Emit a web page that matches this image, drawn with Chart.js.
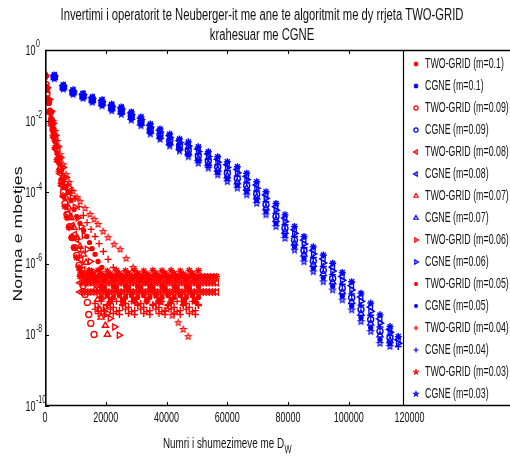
<!DOCTYPE html>
<html>
<head>
<meta charset="utf-8">
<script src="https://cdn.jsdelivr.net/npm/chart.js@4.4.0/dist/chart.umd.min.js"></script>
<style>
html, body { margin: 0; padding: 0; background: #fff; }
#chart { display: block; }
</style>
</head>
<body>
<canvas id="chart" width="510" height="459"></canvas>
<script>
// Axis ticks
const xTicks = [0, 20000, 40000, 60000, 80000, 100000, 120000];
const yTickExps = [0, -2, -4, -6, -8, -10];

// Legend order
const legendLabels = [
    'TWO-GRID (m=0.1)', 'CGNE (m=0.1)', 'TWO-GRID (m=0.09)', 'CGNE (m=0.09)',
    'TWO-GRID (m=0.08)', 'CGNE (m=0.08)', 'TWO-GRID (m=0.07)', 'CGNE (m=0.07)',
    'TWO-GRID (m=0.06)', 'CGNE (m=0.06)', 'TWO-GRID (m=0.05)', 'CGNE (m=0.05)',
    'TWO-GRID (m=0.04)', 'CGNE (m=0.04)', 'TWO-GRID (m=0.03)', 'CGNE (m=0.03)'
];

// CGNE: multiplications at each outer step, residual exponents (log10) per m
const cgneX = [3060, 6020, 9220, 12510, 15570, 18760, 21950, 25110, 28400, 31590, 34650, 37850, 41040, 44260, 47160, 50450, 53740, 56840, 60000, 63290, 66380, 69670, 72730, 76020, 78980, 82110, 85240, 88300, 91590, 94680, 97840, 100940, 104000, 107190, 110250, 113540, 116270];
const cgne01 = [-0.70, -0.98, -1.12, -1.22, -1.32, -1.40, -1.52, -1.60, -1.74, -1.88, -2.08, -2.22, -2.36, -2.50, -2.58, -2.72, -2.86, -3.00, -3.14, -3.28, -3.46, -3.70, -3.98, -4.31, -4.63, -4.96, -5.24, -5.53, -5.76, -5.99, -6.25, -6.51, -6.83, -7.11, -7.44, -7.77, -8.05];
const cgne009 = [-0.76, -1.05, -1.19, -1.30, -1.41, -1.50, -1.63, -1.72, -1.87, -2.02, -2.24, -2.39, -2.55, -2.69, -2.82, -2.98, -3.12, -3.29, -3.46, -3.62, -3.81, -4.05, -4.35, -4.68, -5.01, -5.34, -5.64, -5.93, -6.19, -6.42, -6.69, -6.96, -7.29, -7.57, -7.90, -8.09];
const cgne008 = [-0.72, -1.00, -1.14, -1.24, -1.34, -1.42, -1.55, -1.63, -1.77, -1.92, -2.12, -2.26, -2.41, -2.55, -2.64, -2.78, -2.92, -3.07, -3.22, -3.36, -3.55, -3.79, -4.07, -4.40, -4.72, -5.05, -5.34, -5.63, -5.87, -6.10, -6.36, -6.62, -6.94, -7.22, -7.55, -7.85, -8.14];
const cgne007 = [-0.78, -1.07, -1.21, -1.32, -1.43, -1.52, -1.65, -1.75, -1.90, -2.06, -2.28, -2.43, -2.60, -2.74, -2.88, -3.05, -3.19, -3.36, -3.54, -3.71, -3.89, -4.13, -4.44, -4.77, -5.10, -5.43, -5.74, -6.03, -6.29, -6.52, -6.80, -7.07, -7.40, -7.68, -8.01, -8.17];
const cgne006 = [-0.73, -1.01, -1.16, -1.26, -1.36, -1.45, -1.58, -1.66, -1.81, -1.95, -2.16, -2.30, -2.46, -2.60, -2.70, -2.85, -2.99, -3.15, -3.30, -3.45, -3.64, -3.88, -4.17, -4.50, -4.82, -5.15, -5.45, -5.73, -5.98, -6.21, -6.47, -6.74, -7.06, -7.34, -7.67, -7.93, -8.24];
const cgne005 = [-0.79, -1.08, -1.23, -1.34, -1.45, -1.55, -1.68, -1.78, -1.94, -2.09, -2.32, -2.47, -2.65, -2.79, -2.94, -3.12, -3.26, -3.44, -3.62, -3.80, -3.98, -4.22, -4.54, -4.87, -5.20, -5.53, -5.85, -6.13, -6.40, -6.63, -6.91, -7.19, -7.52, -7.80, -8.13, -8.25];
const cgne004 = [-0.75, -1.03, -1.18, -1.28, -1.38, -1.47, -1.60, -1.69, -1.84, -1.99, -2.20, -2.34, -2.51, -2.65, -2.76, -2.92, -3.06, -3.22, -3.38, -3.54, -3.72, -3.96, -4.26, -4.59, -4.91, -5.24, -5.55, -5.83, -6.08, -6.31, -6.58, -6.85, -7.17, -7.45, -7.78, -8.01, -8.33];
const cgne003 = [-0.81, -1.10, -1.25, -1.36, -1.47, -1.57, -1.71, -1.81, -1.97, -2.13, -2.36, -2.51, -2.70, -2.84, -3.00, -3.18, -3.32, -3.51, -3.70, -3.88, -4.07, -4.31, -4.63, -4.96, -5.29, -5.62, -5.95, -6.23, -6.51, -6.74, -7.02, -7.30, -7.63, -7.91, -8.24, -8.33];

// TWO-GRID: descent phase (multiplications, log10 residual)
const twoGrid01X = [0, 330, 820, 1320, 1980, 2640, 3300, 3950, 4610, 5270, 5930, 6590, 7250, 7910, 8730, 9560, 10380, 11200];
const twoGrid01E = [-0.72, -1.05, -1.39, -1.73, -2.06, -2.40, -2.74, -3.08, -3.41, -3.75, -4.09, -4.40, -4.71, -4.99, -5.27, -5.55, -5.83, -6.11];
const twoGrid009X = [0, 330, 660, 1150, 1650, 2140, 2640, 3300, 3950, 4610, 5110, 5600, 6100, 6590, 7250, 8070, 8900, 9720, 10450, 11200, 11860, 12520, 13180, 13940, 14400, 15060, 16150];
const twoGrid009E = [-0.72, -0.97, -1.22, -1.47, -1.73, -1.98, -2.23, -2.51, -2.79, -3.08, -3.36, -3.69, -4.00, -4.31, -4.62, -4.96, -5.27, -5.55, -5.77, -6.05, -6.33, -6.62, -6.87, -7.09, -7.43, -7.68, -7.99];
const twoGrid008X = [0, 490, 990, 1650, 2310, 2970, 3620, 4280, 4940, 5600, 6260, 6920, 7580, 8240, 8900, 9720, 10450, 11200, 11860, 12520];
const twoGrid008E = [-0.72, -1.11, -1.45, -1.78, -2.12, -2.46, -2.79, -3.13, -3.47, -3.81, -4.12, -4.40, -4.59, -4.68, -4.93, -5.18, -5.32, -5.60, -5.89, -6.17];
const twoGrid007X = [0, 490, 990, 1650, 2310, 2970, 3620, 4280, 4940, 5600, 6260, 6920, 7740, 8570, 9560, 10540, 11530, 12620, 13510, 14500, 15490, 16480, 17300, 17960, 18450, 19870, 20530];
const twoGrid007E = [-0.72, -1.05, -1.39, -1.73, -2.06, -2.40, -2.71, -3.02, -3.30, -3.58, -3.86, -4.14, -4.42, -4.71, -4.99, -5.27, -5.52, -5.74, -5.97, -6.22, -6.47, -6.73, -7.01, -7.29, -7.51, -7.74, -7.99];
const twoGrid006X = [0, 660, 1320, 1980, 2640, 3460, 4280, 5110, 5930, 6920, 7910, 8900, 9890, 10870, 11860, 12850, 13840, 14830, 15910, 16800, 17790, 18780, 19770, 20590, 21420, 22900, 24380];
const twoGrid006E = [-0.72, -1.05, -1.39, -1.73, -2.06, -2.40, -2.71, -3.02, -3.30, -3.58, -3.86, -4.14, -4.42, -4.71, -4.96, -5.21, -5.60, -5.94, -6.22, -6.47, -6.73, -6.98, -7.23, -7.40, -7.54, -7.78, -8.01];
const twoGrid005X = [0, 660, 1320, 1980, 2640, 3300, 3950, 4610, 5270, 5930, 6750, 7680, 8570, 9560, 10450, 11530, 12690, 13740, 14660, 15490, 16480, 17460, 18680];
const twoGrid005E = [-0.72, -1.11, -1.50, -1.90, -2.23, -2.57, -2.91, -3.19, -3.41, -3.64, -3.86, -4.00, -4.23, -4.48, -4.68, -4.87, -5.07, -5.24, -5.41, -5.58, -5.74, -5.94, -6.11];
const twoGrid004X = [0, 660, 1320, 1980, 2640, 3300, 3950, 4610, 5270, 6260, 7580, 8800, 9890, 11200, 12620, 13840, 15160, 16480, 17790, 19210, 20760, 22500, 24050];
const twoGrid004E = [-0.72, -1.05, -1.39, -1.73, -2.06, -2.40, -2.74, -3.08, -3.36, -3.58, -3.78, -3.95, -4.17, -4.40, -4.65, -4.85, -5.04, -5.24, -5.44, -5.66, -5.88, -6.11, -6.28];
const twoGrid003X = [0, 660, 1320, 1980, 2640, 3300, 3950, 4940, 5930, 6920, 7910, 9230, 10540, 11530, 13180, 14830, 16150, 17460, 19110, 20760, 22740, 24710, 26690, 29000, 30980, 32950, 34600, 36580, 38220, 40200, 41850, 43820, 45470, 47120];
const twoGrid003E = [-0.72, -1.11, -1.39, -1.73, -2.01, -2.29, -2.57, -2.94, -3.22, -3.50, -3.72, -3.97, -4.14, -4.26, -4.45, -4.62, -4.76, -4.90, -5.10, -5.27, -5.46, -5.60, -5.86, -6.11, -6.31, -6.53, -6.73, -6.90, -7.09, -7.29, -7.46, -7.66, -7.85, -8.05];

// TWO-GRID: stagnation phase (shared multiplication counts, null = no point)
const plateauX = [11500, 12500, 13500, 14500, 15500, 16500, 17500, 18500, 19500, 20500, 21500, 22500, 23500, 24500, 25500, 26500, 27500, 28500, 29500, 30500, 31500, 32500, 33500, 34500, 35500, 36500, 37500, 38500, 39500, 40500, 41500, 42500, 43500, 44500, 45500, 46500, 47500, 48500, 49500, 50500, 51500, 52500, 53500, 54500, 55500, 56500];
const twoGrid01PlateauA = [-6.36, -6.36, -6.36, -6.36, -6.36, -6.36, -6.36, -6.36, -6.36, -6.36, -6.36, -6.36, -6.36, -6.36, -6.36, -6.36, -6.36, -6.36, -6.36, -6.36, -6.36, -6.36, -6.36, -6.36, -6.36, -6.36, -6.36, -6.36, -6.36, -6.36, -6.36, -6.36, -6.36, -6.36, -6.36, -6.36, -6.36, -6.36, -6.36, -6.36, -6.36, -6.36, -6.36, -6.36, -6.36, -6.36];
const twoGrid01PlateauB = [-6.19, -6.28, -6.45, -6.20, -6.27, -6.46, -6.19, -6.28, -6.45, -6.21, -6.29, -6.44, -6.19, -6.28, -6.45, -6.20, -6.27, -6.46, -6.19, -6.28, -6.45, -6.21, -6.29, -6.44, -6.19, -6.28, -6.45, -6.20, -6.27, -6.46, -6.19, -6.28, -6.45, -6.21, -6.29, -6.44, -6.19, -6.28, -6.45, -6.20, null, null, null, null, null, null];
const twoGrid008PlateauA = [-6.54, -6.54, -6.54, -6.54, -6.54, -6.54, -6.54, -6.54, -6.54, -6.54, -6.54, -6.54, -6.54, -6.54, -6.54, -6.54, -6.54, -6.54, -6.54, -6.54, -6.54, -6.54, -6.54, -6.54, -6.54, -6.54, -6.54, -6.54, -6.54, -6.54, -6.54, -6.54, -6.54, -6.54, -6.54, -6.54, -6.54, -6.54, -6.54, -6.54, -6.54, -6.54, -6.54, -6.54, -6.54, -6.54];
const twoGrid008PlateauB = [-6.80, -6.80, -6.80, -6.80, -6.80, -6.80, -6.80, -6.80, -6.80, -6.80, -6.80, -6.80, -6.80, -6.80, -6.80, -6.80, -6.80, -6.80, -6.80, -6.80, -6.80, -6.80, -6.80, -6.80, -6.80, -6.80, -6.80, -6.80, -6.80, -6.80, -6.80, -6.80, -6.80, -6.80, -6.80, -6.80, -6.80, -6.80, -6.80, -6.80, -6.80, -6.80, -6.80, -6.80, -6.80, -6.80];
const twoGrid005PlateauA = [null, null, null, null, null, null, null, -6.64, -6.73, -6.90, -7.01, -6.64, -6.73, -6.90, -7.01, -6.64, -6.73, -6.90, -7.01, -6.64, -6.73, -6.90, -7.01, -6.64, -6.73, -6.90, -7.01, -6.64, -6.73, -6.90, -7.01, -6.64, -6.73, -6.90, -7.01, -6.64, -6.73, -6.90, -7.01, -6.64, null, null, null, null, null, null];
const twoGrid005PlateauB = [null, null, null, null, null, null, null, -6.95, -6.68, -6.86, -7.07, -6.95, -6.68, -6.86, -7.07, -6.95, -6.68, -6.86, -7.07, -6.95, -6.68, -6.86, -7.07, -6.95, -6.68, -6.86, -7.07, -6.95, -6.68, -6.86, -7.07, -6.95, -6.68, -6.86, -7.07, -6.95, -6.68, -6.86, -7.07, -6.95, null, null, null, null, null, null];
const twoGrid004PlateauA = [null, null, null, null, null, -7.12, -7.23, -7.35, -7.43, -7.18, -7.12, -7.23, -7.35, -7.43, -7.18, -7.12, -7.23, -7.35, -7.43, -7.18, -7.12, -7.23, -7.35, -7.43, -7.18, -7.12, -7.23, -7.35, -7.43, -7.18, -7.12, -7.23, -7.35, -7.43, -7.18, -7.12, -7.23, -7.35, -7.43, -7.18, null, null, null, null, null, null];
const twoGrid004PlateauB = [null, null, null, null, null, -7.28, -7.40, -7.06, -7.32, -7.15, -7.28, -7.40, -7.06, -7.32, -7.15, -7.28, -7.40, -7.06, -7.32, -7.15, -7.28, -7.40, -7.06, -7.32, -7.15, -7.28, -7.40, -7.06, -7.32, -7.15, -7.28, -7.40, -7.06, -7.32, -7.15, -7.28, -7.40, -7.06, -7.32, -7.15, null, null, null, null, null, null];

const RED = '#ff0000';
const BLUE = '#0000ff';

function toPoints(xs, exps) {
    const pts = [];
    xs.forEach((x, i) => {
        if (exps[i] !== null && exps[i] !== undefined) {
            pts.push({ x: x, y: Math.pow(10, exps[i]) });
        }
    });
    return pts;
}

// MATLAB style pentagram marker
function pentagram(color, r) {
    const c = document.createElement('canvas');
    const s = Math.ceil(r * 2 + 3);
    c.width = s;
    c.height = s;
    const g = c.getContext('2d');
    g.strokeStyle = color;
    g.lineWidth = 1.2;
    g.beginPath();
    for (let k = 0; k < 10; k++) {
        const rr = k % 2 === 0 ? r : r * 0.45;
        const a = -Math.PI / 2 + k * Math.PI / 5;
        const px = s / 2 + rr * Math.cos(a);
        const py = s / 2 + rr * Math.sin(a);
        if (k === 0) g.moveTo(px, py); else g.lineTo(px, py);
    }
    g.closePath();
    g.stroke();
    return c;
}

const markers = {
    m01: { style: 'star', radius: 3.5, rotation: 0, filled: false },
    m009: { style: 'circle', radius: 3, rotation: 0, filled: false },
    m008: { style: 'triangle', radius: 3.5, rotation: -90, filled: false },
    m007: { style: 'triangle', radius: 3.5, rotation: 0, filled: false },
    m006: { style: 'triangle', radius: 3.5, rotation: 90, filled: false },
    m005: { style: 'circle', radius: 2, rotation: 0, filled: true },
    m004: { style: 'cross', radius: 3.5, rotation: 0, filled: false },
    m003: { style: 'pentagram', radius: 3, rotation: 0, filled: false }
};
const starRed = pentagram(RED, 3);
const starBlue = pentagram(BLUE, 3);
const starRedSmall = pentagram(RED, 2.3);
const starBlueSmall = pentagram(BLUE, 2.3);

function makeSet(label, color, marker, points) {
    let style = marker.style;
    if (style === 'pentagram') style = color === RED ? starRed : starBlue;
    return {
        label: label,
        data: points,
        showLine: false,
        pointStyle: style,
        pointRadius: marker.radius,
        pointRotation: marker.rotation,
        borderColor: color,
        backgroundColor: marker.filled ? color : 'rgba(0,0,0,0)',
        pointBorderWidth: 1.4
    };
}

const datasets = [
    makeSet(legendLabels[0], RED, markers.m01, toPoints(twoGrid01X, twoGrid01E).concat(toPoints(plateauX, twoGrid01PlateauA), toPoints(plateauX, twoGrid01PlateauB))),
    makeSet(legendLabels[1], BLUE, markers.m01, toPoints(cgneX, cgne01)),
    makeSet(legendLabels[2], RED, markers.m009, toPoints(twoGrid009X, twoGrid009E)),
    makeSet(legendLabels[3], BLUE, markers.m009, toPoints(cgneX, cgne009)),
    makeSet(legendLabels[4], RED, markers.m008, toPoints(twoGrid008X, twoGrid008E).concat(toPoints(plateauX, twoGrid008PlateauA), toPoints(plateauX, twoGrid008PlateauB))),
    makeSet(legendLabels[5], BLUE, markers.m008, toPoints(cgneX, cgne008)),
    makeSet(legendLabels[6], RED, markers.m007, toPoints(twoGrid007X, twoGrid007E)),
    makeSet(legendLabels[7], BLUE, markers.m007, toPoints(cgneX, cgne007)),
    makeSet(legendLabels[8], RED, markers.m006, toPoints(twoGrid006X, twoGrid006E)),
    makeSet(legendLabels[9], BLUE, markers.m006, toPoints(cgneX, cgne006)),
    makeSet(legendLabels[10], RED, markers.m005, toPoints(twoGrid005X, twoGrid005E).concat(toPoints(plateauX, twoGrid005PlateauA), toPoints(plateauX, twoGrid005PlateauB))),
    makeSet(legendLabels[11], BLUE, markers.m005, toPoints(cgneX, cgne005)),
    makeSet(legendLabels[12], RED, markers.m004, toPoints(twoGrid004X, twoGrid004E).concat(toPoints(plateauX, twoGrid004PlateauA), toPoints(plateauX, twoGrid004PlateauB))),
    makeSet(legendLabels[13], BLUE, markers.m004, toPoints(cgneX, cgne004)),
    makeSet(legendLabels[14], RED, markers.m003, toPoints(twoGrid003X, twoGrid003E)),
    makeSet(legendLabels[15], BLUE, markers.m003, toPoints(cgneX, cgne003))
];

const FONT = '"Liberation Sans", Arial, Helvetica, sans-serif';

// draw text squeezed horizontally like the original figure
function drawText(ctx, text, x, y, size, align, sx) {
    ctx.save();
    ctx.font = size + 'px ' + FONT;
    ctx.textBaseline = 'middle';
    ctx.textAlign = 'left';
    const w = ctx.measureText(text).width * sx;
    const left = align === 'center' ? x - w / 2 : (align === 'right' ? x - w : x);
    ctx.translate(left, y);
    ctx.scale(sx, 1);
    ctx.fillText(text, 0, 0);
    ctx.restore();
    return w;
}

function widthScale(ctx, text, size, target) {
    ctx.save();
    ctx.font = size + 'px ' + FONT;
    const w = ctx.measureText(text).width;
    ctx.restore();
    return target / w;
}

function drawMarker(ctx, set, x, y) {
    ctx.save();
    ctx.strokeStyle = set.borderColor;
    ctx.fillStyle = set.backgroundColor;
    ctx.lineWidth = 1.2;
    let style = set.pointStyle;
    if (style === starRed) style = starRedSmall;
    if (style === starBlue) style = starBlueSmall;
    const opts = { pointStyle: style, radius: set.pointRadius * 0.7, rotation: set.pointRotation, borderWidth: 1.2 };
    if (Chart.helpers && Chart.helpers.drawPoint) {
        Chart.helpers.drawPoint(ctx, opts, x, y);
    } else {
        ctx.beginPath();
        ctx.arc(x, y, 2, 0, Math.PI * 2);
        ctx.stroke();
    }
    ctx.restore();
}

const matlabFrame = {
    id: 'matlabFrame',
    afterDraw(chart) {
        const ctx = chart.ctx;
        const a = chart.chartArea;
        const xs = chart.scales.x;
        const ys = chart.scales.y;
        const W = chart.width;
        const legLeft = 403;

        ctx.save();
        // legend backdrop covers the right part of the axes
        ctx.fillStyle = '#fff';
        ctx.fillRect(legLeft, a.top, W - legLeft, a.bottom - a.top);

        // axes frame
        ctx.strokeStyle = '#000';
        ctx.lineWidth = 1.6;
        ctx.beginPath();
        ctx.moveTo(a.left + 0.8, a.top);
        ctx.lineTo(a.left + 0.8, a.bottom);
        ctx.moveTo(a.left, a.top + 0.5);
        ctx.lineTo(W, a.top + 0.5);
        ctx.moveTo(a.left, a.bottom - 0.5);
        ctx.lineTo(W, a.bottom - 0.5);
        ctx.stroke();

        // legend left border
        ctx.lineWidth = 1.2;
        ctx.beginPath();
        ctx.moveTo(legLeft + 0.5, a.top);
        ctx.lineTo(legLeft + 0.5, a.bottom);
        ctx.stroke();

        // inward ticks
        ctx.lineWidth = 1;
        ctx.beginPath();
        xTicks.forEach(v => {
            const px = Math.round(xs.getPixelForValue(v)) + 0.5;
            if (px > legLeft) return;
            ctx.moveTo(px, a.bottom);
            ctx.lineTo(px, a.bottom - 4);
            ctx.moveTo(px, a.top);
            ctx.lineTo(px, a.top + 4);
        });
        yTickExps.forEach(e => {
            const py = Math.round(ys.getPixelForValue(Math.pow(10, e))) + 0.5;
            ctx.moveTo(a.left, py);
            ctx.lineTo(a.left + 4, py);
        });
        ctx.stroke();

        ctx.fillStyle = '#111';
        // x tick labels
        xTicks.forEach(v => {
            drawText(ctx, String(v), xs.getPixelForValue(v), a.bottom + 11.5, 14.5, 'center', 0.62);
        });
        // y tick labels 10^e
        yTickExps.forEach(e => {
            const py = ys.getPixelForValue(Math.pow(10, e));
            drawText(ctx, '10', 35.5, py + 0.5, 14.5, 'right', 0.62);
            drawText(ctx, String(e), 36, py - 5.5, 10, 'left', 0.7);
        });

        // x axis title with subscript
        const xl = 'Numri i shumezimeve me D';
        const sxl = widthScale(ctx, xl, 15, 121);
        const wxl = drawText(ctx, xl, 163, 444, 15, 'left', sxl);
        drawText(ctx, 'W', 163 + wxl + 0.5, 450, 10, 'left', 0.75);

        // y axis title (rotated)
        ctx.save();
        const yl = 'Norma e mbetjes';
        ctx.font = '15px ' + FONT;
        const ylw = ctx.measureText(yl).width;
        ctx.translate(18.5, 234);
        ctx.rotate(-Math.PI / 2);
        ctx.scale(135 / ylw, 0.8);
        ctx.textAlign = 'center';
        ctx.textBaseline = 'middle';
        ctx.fillText(yl, 0, 0);
        ctx.restore();

        // title
        const t1 = 'Invertimi i operatorit te Neuberger-it me ane te algoritmit me dy rrjeta TWO-GRID';
        const t2 = 'krahesuar me CGNE';
        const st = widthScale(ctx, t1, 16, 403);
        drawText(ctx, t1, 262, 15.5, 16, 'center', st);
        drawText(ctx, t2, 262, 35.5, 16, 'center', st);

        // legend entries
        chart.data.datasets.forEach((set, i) => {
            const ry = 64 + 22 * i;
            drawMarker(ctx, set, 416, ry);
            ctx.fillStyle = '#111';
            drawText(ctx, set.label, 425, ry, 14.5, 'left', 0.61);
        });
        ctx.restore();
    }
};

new Chart(document.getElementById('chart'), {
    type: 'scatter',
    data: { datasets: datasets },
    options: {
        responsive: false,
        animation: false,
        devicePixelRatio: 1,
        events: [],
        layout: { padding: { top: 50, right: 70, bottom: 0, left: 0 } },
        plugins: {
            legend: { display: false },
            title: { display: false },
            tooltip: { enabled: false }
        },
        scales: {
            x: {
                type: 'linear',
                min: 0,
                max: 130000,
                grid: { display: false, drawTicks: false },
                border: { display: false },
                ticks: { display: false },
                afterBuildTicks: s => { s.ticks = xTicks.map(v => ({ value: v })); },
                afterFit: s => { s.height = 53; }
            },
            y: {
                type: 'logarithmic',
                min: 1e-10,
                max: 1,
                grid: { display: false, drawTicks: false },
                border: { display: false },
                ticks: { display: false },
                afterBuildTicks: s => { s.ticks = yTickExps.map(e => ({ value: Math.pow(10, e) })); },
                afterFit: s => { s.width = 45; }
            }
        }
    },
    plugins: [matlabFrame]
});
</script>
</body>
</html>
